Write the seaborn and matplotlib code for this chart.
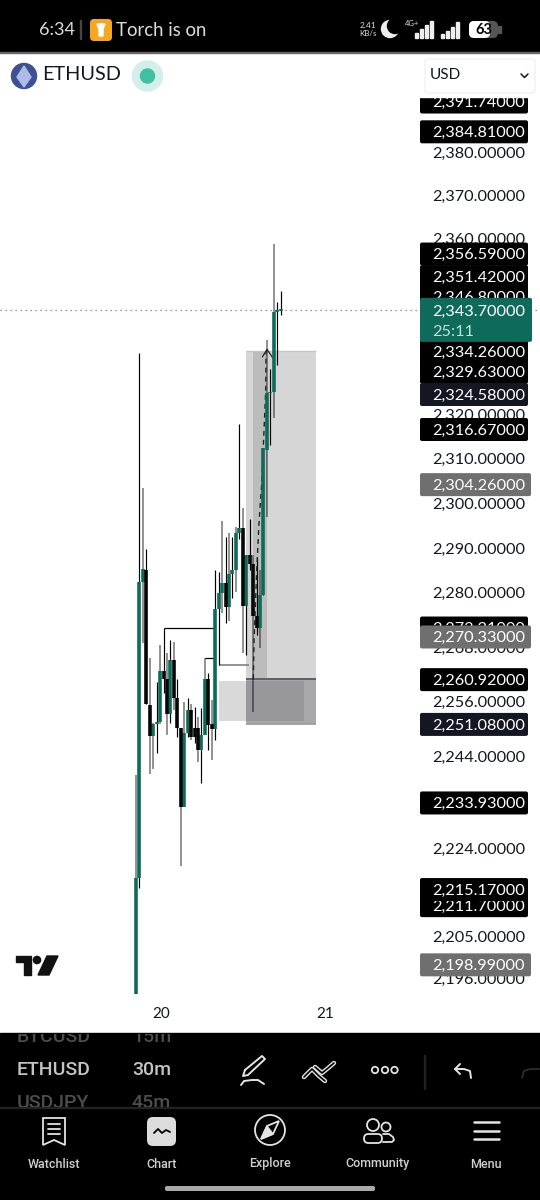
import pandas as pd
import matplotlib.pyplot as plt
import seaborn as sns
from matplotlib.patches import Rectangle, FancyBboxPatch, Circle, Polygon

# Candles (30m)
opens = [2192.6, 2217.6, 2282.4, 2285.1, 2255.2, 2248.5, 2251.1, 2251.5, 2262.7, 2260.9, 2253.2,
         2265.1, 2256.7, 2250.2, 2233.0, 2249.1, 2254.1, 2250.2, 2250.2, 2245.4, 2248.7, 2260.9,
         2251.1, 2250.0, 2276.4, 2280.0, 2282.2, 2276.9, 2284.2, 2285.1, 2293.3, 2294.5, 2277.1,
         2288.4, 2286.4, 2274.9, 2272.2, 2279.5, 2311.9, 2324.8, 2325.0, 2343.3, 2343.4]
highs = [2240.0, 2333.9, 2303.4, 2289.8, 2265.6, 2251.3, 2260.3, 2268.5, 2272.31, 2266.7, 2269.6,
         2269.1, 2260.9, 2250.2, 2255.9, 2256.7, 2255.4, 2254.8, 2252.5, 2254.6, 2265.6, 2262.2,
         2256.3, 2285.1, 2284.6, 2296.0, 2292.4, 2293.3, 2292.4, 2294.7, 2317.8, 2298.9, 2288.4,
         2296.5, 2288.4, 2287.7, 2285.1, 2312.4, 2336.8, 2330.2, 2358.7, 2345.5, 2348.0]
lows = [2192.6, 2215.4, 2268.9, 2255.4, 2240.2, 2241.3, 2244.7, 2251.1, 2257.9, 2248.7, 2251.3,
        2254.1, 2248.2, 2220.2, 2233.0, 2248.2, 2247.6, 2246.9, 2242.7, 2238.1, 2248.7, 2245.4,
        2243.2, 2247.6, 2264.0, 2275.5, 2273.3, 2273.8, 2278.8, 2280.2, 2292.0, 2266.7, 2266.2,
        2285.1, 2253.7, 2270.7, 2267.8, 2279.5, 2296.9, 2313.1, 2319.1, 2331.2, 2342.5]
closes = [2217.6, 2282.4, 2285.3, 2255.4, 2248.5, 2251.1, 2251.5, 2262.7, 2260.9, 2253.2, 2265.1,
          2256.7, 2250.2, 2233.0, 2249.1, 2254.1, 2248.2, 2248.2, 2245.4, 2248.7, 2260.9, 2250.9,
          2250.0, 2276.4, 2280.0, 2282.2, 2276.9, 2284.2, 2285.1, 2293.3, 2294.5, 2277.1, 2288.4,
          2286.4, 2274.9, 2272.2, 2279.5, 2312.4, 2324.8, 2325.0, 2343.3, 2343.7, 2343.9]

y_ticks = [2380, 2370, 2360, 2320, 2310, 2300, 2290, 2280, 2268, 2256, 2244, 2224, 2205, 2196]
x_tick_pos = [7.26, 54.86]
x_tick_labels = ["20", "21"]

# price tags on the axis: value, kind
tag_prices = [2391.74, 2384.81, 2356.59, 2346.80, 2351.42, 2334.26, 2329.63, 2324.58, 2316.67,
              2304.26, 2272.31, 2270.33, 2260.92, 2251.08, 2233.93, 2211.70, 2215.17, 2198.99]
tag_kinds = ["black", "black", "black", "black", "black", "black", "black", "navy", "black",
             "grey", "black", "grey", "black", "navy", "black", "black", "black", "grey"]
last_price = 2343.70
countdown = "25:11"

# drawings on the chart: index left, index right, price low, price high
range_box = [31.93, 52.25, 2251.08, 2334.26]
band_box = [33.96, 38.03, 2260.92, 2334.26]
zone_box = [24.09, 48.77, 2251.7, 2260.4]
arrow_idx = [34.05, 34.25, 35.04, 35.7, 36.49, 37.16, 37.65, 37.75]
arrow_price = [2260.9, 2269.1, 2285.1, 2295.5, 2304.4, 2316.4, 2325.4, 2334.3]
arrow_head_idx = [36.7, 38.03, 39.68]
arrow_head_price = [2333.0, 2334.7, 2332.8]
# wicks drawn grey in the app (alternating drawing order, not direction)
grey_wicks = [0, 2, 4, 5, 7, 9, 11, 13, 14, 16, 18, 20, 22, 25, 27, 29, 31, 34, 36, 38, 40]

GREEN = "#0e6b5b"
INK = "#131722"

sns.set_theme(style="white")
plt.rcParams["font.family"] = ["Lato", "DejaVu Sans"]

fig = plt.figure(figsize=(5.4, 12), dpi=100, facecolor="white")
ax = fig.add_axes([0, 0, 1, 1])
ax.set_yscale("log")

# -------------------------------
# Candles
# -------------------------------
idx = list(range(len(opens)))
wick_df = pd.DataFrame({"idx": idx + idx, "price": highs + lows})
wick_df["tone"] = ["grey" if i in grey_wicks else "black" for i in wick_df["idx"]]
body_df = pd.DataFrame({"idx": idx + idx, "price": opens + closes})
body_df["tone"] = ["up" if closes[i] >= opens[i] else "down" for i in body_df["idx"]]

sns.lineplot(data=wick_df[wick_df["tone"] == "grey"], x="idx", y="price", units="idx", estimator=None,
             color="black", alpha=0.5, linewidth=1.2, solid_capstyle="butt", zorder=3, ax=ax)
sns.lineplot(data=wick_df[wick_df["tone"] == "black"], x="idx", y="price", units="idx", estimator=None,
             color="black", linewidth=0.85, solid_capstyle="butt", zorder=3, ax=ax)
sns.lineplot(data=body_df, x="idx", y="price", units="idx", estimator=None, hue="tone",
             palette={"up": GREEN, "down": "#060606"}, legend=False, linewidth=2.6,
             solid_capstyle="butt", zorder=4, ax=ax)

# -------------------------------
# Drawings
# -------------------------------
def box(spec, color, z):
    ax.add_patch(Rectangle((spec[0], spec[2]), spec[1] - spec[0], spec[3] - spec[2],
                           facecolor=color, edgecolor="none", zorder=z))

box(range_box, "#d6d6d6", 1)
box(band_box, "#bcbcbc", 1.1)
box([range_box[0], range_box[1], range_box[2], band_box[2]], "#a9a9ac", 1.2)
box([zone_box[0], range_box[0], zone_box[2], zone_box[3]], "#d9d9d9", 1.2)
box([range_box[0], zone_box[1], zone_box[2], zone_box[3]], "#97979c", 1.3)

ax.hlines(range_box[3], range_box[0], range_box[1], color="#c6c6c6", lw=1, zorder=1.4)
ax.hlines(band_box[2], range_box[0], range_box[1], color="#5e5e64", lw=1.4, zorder=1.4)
ax.hlines(range_box[2], range_box[0], range_box[1], color="#9a9a9a", lw=1.2, zorder=1.4)

ax.hlines(2272.31, 8, 23, color="black", lw=0.9, zorder=2)
ax.hlines(2265.6, 20, 22.6, color="black", lw=0.9, zorder=2)
ax.hlines(2264.0, 24, 32.8, color="#777777", lw=1.1, zorder=2)

ax.axhline(last_price, color="#3a9484", lw=0.9, ls=(0, (1, 3)), zorder=1.5)

sns.lineplot(x=arrow_idx, y=arrow_price, sort=False, estimator=None, color="#222222",
             linewidth=1.0, linestyle=(0, (3.5, 3)), zorder=3.5, ax=ax)
sns.lineplot(x=arrow_head_idx, y=arrow_head_price, sort=False, estimator=None, color="#222222",
             linewidth=0.9, zorder=2.5, ax=ax)

# axes, scale calibrated on the tags in the screenshot
ax.set_xlim(-39.48, 117.27)
ax.set_ylim(2149.1, 2415.5)
ax.set_xlabel("")
ax.set_ylabel("")
for s in ax.spines.values():
    s.set_visible(False)
ax.yaxis.tick_right()
ax.set_yticks(y_ticks, [f"{v:,.5f}" for v in y_ticks])
ax.yaxis.set_minor_locator(plt.NullLocator())
ax.yaxis.set_minor_formatter(plt.NullFormatter())
ax.set_xticks(x_tick_pos, x_tick_labels)
ax.tick_params(axis="y", length=0, pad=-77.5, labelsize=11.7, labelcolor=INK)
ax.tick_params(axis="x", length=0, pad=-139, labelsize=11, labelcolor=INK)

# -------------------------------
# Phone / app chrome, pixel coordinates
# -------------------------------
ui = fig.add_axes([0, 0, 1, 1], zorder=5)
ui.set_xlim(0, 540)
ui.set_ylim(1200, 0)
ui.axis("off")
ui.patch.set_alpha(0)


def to_px(price):
    return 1200 - ax.transData.transform((0, price))[1]


def rbox(x0, y0, x1, y1, color, r=3, z=10, **kw):
    p = FancyBboxPatch((x0 + r, y0 + r), x1 - x0 - 2 * r, y1 - y0 - 2 * r,
                       boxstyle=f"round,pad={r},rounding_size={r}", facecolor=color,
                       edgecolor=kw.pop("edgecolor", "none"), zorder=z, **kw)
    ui.add_patch(p)
    return p


tag_colors = {"black": "#000000", "navy": "#131722", "grey": "#6f6f6f"}
z = 10
for price, kind in zip(tag_prices, tag_kinds):
    y = to_px(price)
    right = 531 if kind == "grey" else 528
    rbox(420, y - 11, right, y + 12, tag_colors[kind], r=2, z=z)
    ui.text(432, y + 1.5, f"{price:,.5f}", color="white", fontsize=11.7, va="center", zorder=z + 0.5)
    z += 1

y = to_px(last_price)
rbox(420, y - 12, 532, y + 32, GREEN, r=2, z=z)
ui.text(432, y + 2, f"{last_price:,.5f}", color="white", fontsize=11.7, va="center", zorder=z + 0.5)
ui.text(432, y + 22, countdown, color="#b9e3d8", fontsize=11.7, va="center", zorder=z + 0.5)

# logo
TOP = 50
ui.add_patch(Polygon([(16, 956), (31, 956), (31, 975), (24, 975), (24, 962), (16, 962)], color="#111111", zorder=9))
ui.add_patch(Circle((37, 960), 3.6, color="#111111", zorder=9))
ui.add_patch(Polygon([(47, 956), (58, 956), (49, 975), (38, 975)], color="#111111", zorder=9))

# header
ui.add_patch(Rectangle((0, 53), 540, 44, color="white", zorder=TOP))
ui.add_patch(Rectangle((0, 0), 540, 52, color="black", zorder=TOP))
ui.add_patch(Rectangle((0, 52), 540, 1, color="#666666", zorder=TOP))
ui.text(39, 30, "6:34", color="#dddddd", fontsize=13, va="center", zorder=TOP + 1)
ui.add_patch(Rectangle((80, 20), 1, 19, color="#444444", zorder=TOP + 1))
rbox(90, 19, 112, 41, "#f5a623", r=4, z=TOP + 1)
ui.add_patch(Polygon([(97, 24), (105, 24), (103, 29), (103, 36), (99, 36), (99, 29)], color="white", zorder=TOP + 2))
ui.text(116, 30, "Torch is on", color="#dddddd", fontsize=13.4, va="center", zorder=TOP + 1)
ui.text(368, 25, "2.41", color="#dddddd", fontsize=6, ha="center", va="center", zorder=TOP + 1)
ui.text(368, 33, "KB/s", color="#dddddd", fontsize=5.8, ha="center", va="center", zorder=TOP + 1)
ui.add_patch(Circle((390, 29), 8.5, color="#eeeeee", zorder=TOP + 1))
ui.add_patch(Circle((395, 26), 7.5, color="black", zorder=TOP + 1.5))
ui.text(412, 24, "4G+", color="#dddddd", fontsize=5.5, ha="center", va="center", zorder=TOP + 1)
for bars, x0 in [([5, 9, 13, 17], 415), ([4, 7, 11, 16], 441)]:
    for n, h in enumerate(bars):
        ui.add_patch(Rectangle((x0 + n * 5, 38 - h), 3, h, color="#eeeeee", zorder=TOP + 1))
rbox(469, 21, 498, 38, "#555555", r=5, z=TOP + 1)
rbox(469, 21, 490, 38, "white", r=5, z=TOP + 1)
ui.add_patch(Rectangle((498, 26), 3, 7, color="#555555", zorder=TOP + 1))
ui.text(484, 29.5, "63", color="black", fontsize=10.5, fontweight="bold", ha="center", va="center", zorder=TOP + 2)

# symbol row
ui.add_patch(Circle((24, 76), 12.5, color="#3e4f94", zorder=TOP + 1))
ui.add_patch(Polygon([(24, 66), (31, 77), (24, 87), (17, 77)], color="#aebbe6", zorder=TOP + 2))
ui.text(42, 75, "ETHUSD", color=INK, fontsize=14.3, va="center", zorder=TOP + 1)
ui.add_patch(Circle((147.5, 76), 15, color="#d2efe9", zorder=TOP + 1))
ui.add_patch(Circle((147.5, 76), 7, color="#41bfa5", zorder=TOP + 2))
rbox(425, 59, 535, 93, "white", r=4, z=TOP + 1, edgecolor="#eeeeee", linewidth=0.8)
ui.text(430, 75, "USD", color=INK, fontsize=11, va="center", zorder=TOP + 2)
ui.plot([521, 524.5, 528], [74, 77.5, 74], color=INK, lw=1.1, zorder=TOP + 2)

# bottom bars
ui.add_patch(Rectangle((0, 1033), 540, 167, color="black", zorder=TOP))
ui.add_patch(Rectangle((0, 1107), 540, 1, color="#222222", zorder=TOP + 1))
clip_panel = Rectangle((0, 1034), 540, 73, transform=ui.transData)
for txt, x, yy, col, fw in [("BTCUSD", 17, 1037, "#4d4d4d", 500), ("15m", 132, 1037, "#4d4d4d", 500),
                            ("ETHUSD", 17, 1070, "#c4c4c4", 500), ("30m", 132, 1070, "#c4c4c4", 500),
                            ("USDJPY", 17, 1103, "#4d4d4d", 500), ("45m", 132, 1103, "#4d4d4d", 500)]:
    t = ui.text(x, yy, txt, color=col, fontsize=14, fontweight=fw, family="Roboto", va="center", zorder=TOP + 2)
    t.set_clip_path(clip_panel)
    t.set_clip_on(True)

W = "#e4e4e4"
# pencil
ui.plot([245, 262, 265, 248, 243, 245], [1070, 1056, 1059, 1075, 1076, 1070], color=W, lw=1.4, zorder=TOP + 2)
ui.plot([241, 244, 252, 258, 264], [1085, 1081, 1080, 1080, 1084], color=W, lw=1.4, zorder=TOP + 2)
# trend tool: two stacked chevrons
ui.plot([304, 312, 319, 325], [1077, 1069, 1076, 1081], color=W, lw=3.2, solid_capstyle="round", zorder=TOP + 2)
ui.plot([304, 312, 319, 325], [1077, 1069, 1076, 1081], color="black", lw=1.2, solid_capstyle="round", zorder=TOP + 3)
ui.plot([315, 322, 327, 334], [1067, 1073, 1069, 1063], color=W, lw=3.2, solid_capstyle="round", zorder=TOP + 2)
ui.plot([315, 322, 327, 334], [1067, 1073, 1069, 1063], color="black", lw=1.2, solid_capstyle="round", zorder=TOP + 3)
for cx in (375, 385, 394.5):
    ui.add_patch(Circle((cx, 1070), 3.2, fill=False, edgecolor=W, lw=1.3, zorder=TOP + 2))
ui.add_patch(Rectangle((423.5, 1055), 1, 34, color="#222222", zorder=TOP + 2))
ui.plot([471, 470, 464, 455], [1078, 1071, 1069, 1069], color=W, lw=1.4, zorder=TOP + 2)
ui.plot([460, 455, 460], [1064, 1069, 1074], color=W, lw=1.4, zorder=TOP + 2)
ui.plot([522, 524, 530, 539], [1078, 1071, 1069, 1069], color="#2a2a2a", lw=1.4, zorder=TOP + 2)

nav_x = [54, 162, 270, 378, 486]
nav_labels = ["Watchlist", "Chart", "Explore", "Community", "Menu"]
for x, label in zip(nav_x, nav_labels):
    ui.text(x, 1164, label, color="#cfcfcf", fontsize=9, fontweight=500, family="Roboto",
            ha="center", va="center", zorder=TOP + 2)
# watchlist icon
ui.add_patch(Polygon([(43, 1118), (65, 1118), (65, 1145), (54, 1140), (43, 1145)], fill=False, edgecolor=W, lw=1.3, zorder=TOP + 2))
for yy in (1124, 1129, 1134):
    ui.plot([48, 60], [yy, yy], color=W, lw=1.3, zorder=TOP + 2)
# chart icon
rbox(147, 1117, 176, 1146, "#dcdcdc", r=6, z=TOP + 2)
ui.plot([154, 158, 162, 166, 170], [1133, 1129, 1133, 1130, 1132], color="black", lw=1.3, zorder=TOP + 3)
# compass
ui.add_patch(Circle((270, 1130), 15, fill=False, edgecolor=W, lw=1.3, zorder=TOP + 2))
ui.add_patch(Polygon([(279, 1121), (273, 1134), (261, 1139), (267, 1126)], fill=False, edgecolor=W, lw=1.3, zorder=TOP + 2))
ui.add_patch(Polygon([(261, 1139), (273, 1134), (267, 1126)], color=W, zorder=TOP + 2))
# community
ui.add_patch(Circle((373, 1125), 6, fill=False, edgecolor=W, lw=1.3, zorder=TOP + 2))
ui.add_patch(Circle((386, 1127), 4.5, fill=False, edgecolor=W, lw=1.3, zorder=TOP + 2))
rbox(364, 1134, 382, 1143, "none", r=4.4, z=TOP + 2, edgecolor=W, linewidth=1.3)
ui.plot([383, 389, 393, 394, 392, 383], [1134, 1134, 1137, 1140, 1142, 1142], color=W, lw=1.3, zorder=TOP + 2)
# hamburger
for yy in (1122, 1131, 1139):
    ui.plot([474, 499], [yy, yy], color=W, lw=1.8, zorder=TOP + 2)
rbox(165, 1186, 375, 1191, "#aaaaaa", r=2, z=TOP + 2)

fig.savefig("out.png", dpi=100)
